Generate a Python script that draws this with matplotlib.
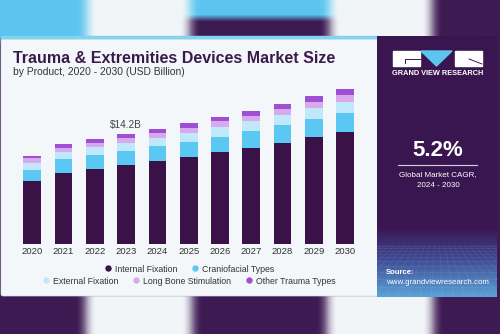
import numpy as np
import matplotlib
matplotlib.use("Agg")
import matplotlib.pyplot as plt
from matplotlib.patches import Rectangle, FancyBboxPatch, Polygon
from matplotlib.lines import Line2D

# ---- data (USD Billion) ----
years = ["2020", "2021", "2022", "2023", "2024", "2025", "2026", "2027", "2028", "2029", "2030"]
internal_fixation = [8.15, 9.23, 9.74, 10.18, 10.70, 11.30, 11.90, 12.42, 13.11, 13.81, 14.53]
craniofacial_types = [1.46, 1.77, 1.72, 1.85, 1.94, 1.90, 1.98, 2.16, 2.29, 2.37, 2.46]
external_fixation = [0.87, 0.91, 1.07, 1.04, 1.07, 1.16, 1.26, 1.29, 1.33, 1.38, 1.42]
long_bone_stimulation = [0.61, 0.56, 0.56, 0.65, 0.65, 0.69, 0.74, 0.69, 0.78, 0.87, 0.91]
other_trauma_types = [0.30, 0.43, 0.52, 0.48, 0.56, 0.61, 0.56, 0.61, 0.61, 0.69, 0.78]
series_names = ["Internal Fixation", "Craniofacial Types", "External Fixation",
                "Long Bone Stimulation", "Other Trauma Types"]
highlight_year = "2023"
cagr_text = "5.2%"

PURPLE = "#3b1850"
SKY = "#5cc6f0"
colors = ["#3a1248", "#5ac8f2", "#bfe9fb", "#d8a9ec", "#9f4fd4"]

W, H = 500, 334
fig = plt.figure(figsize=(5, 3.34), dpi=100)

# ---- background canvas in pixel coordinates ----
bg = fig.add_axes([0, 0, 1, 1])
bg.set_xlim(0, W)
bg.set_ylim(H, 0)
bg.axis("off")


def rgb(h):
    return np.array(matplotlib.colors.to_rgb(h))


def box_blur(a, r, axis):
    k = np.ones(2 * r + 1) / (2 * r + 1)
    pad = [(0, 0)] * a.ndim
    pad[axis] = (r, r)
    ap = np.pad(a, pad, mode="edge")
    return np.apply_along_axis(lambda v: np.convolve(v, k, mode="valid"), axis, ap)


img = np.zeros((H, W, 3))
img[:] = rgb("#3e1a52")
white = rgb("#f2f6f9")
for x in range(W):
    if x < 87:
        img[:40, x] = rgb(SKY)
    elif x < 190:
        img[:40, x] = white
    elif x < 330:
        img[:18, x] = rgb(SKY)
    elif x < 432:
        img[:40, x] = white
    if 86 <= x < 192 or 327 <= x < 433:
        img[294:, x] = white
img = box_blur(img, 5, 1)
img = box_blur(img, 5, 1)
img = box_blur(img, 3, 0)
bg.imshow(img, extent=(0, W, H, 0), aspect="auto", zorder=0)

# card
bg.add_patch(Rectangle((1, 36), 377, 4, color="#7fd3f3", zorder=1))
bg.add_patch(FancyBboxPatch((1, 39.5), 377, 256.5, boxstyle="round,pad=0,rounding_size=2",
                            facecolor="#f3f7fa", edgecolor="#d8dde2", lw=0.5, zorder=1))

# right panel with gradient foot
ph = np.linspace(36, 297, 262)
pan = np.zeros((len(ph), 1, 3))
top_c, mid_c, bot_c = rgb("#3a1650"), rgb("#3e4790"), rgb("#5aa2d8")
for i, y in enumerate(ph):
    if y < 228:
        c = top_c
    elif y < 258:
        t = (y - 228) / 30
        c = top_c * (1 - t) + mid_c * t
    else:
        t = (y - 258) / 39
        c = mid_c * (1 - t) + bot_c * t
    pan[i, 0] = c
bg.imshow(pan, extent=(377, 497, 297, 36), aspect="auto", zorder=2)

# perspective grid in the panel foot
panel_clip = Rectangle((377, 36), 120, 261, transform=bg.transData)
for yy in [246, 248, 250.5, 253.5, 257, 261, 266, 272, 279, 287]:
    bg.plot([377, 497], [yy, yy], color="white", alpha=0.12, lw=0.4, zorder=3)
vx, vy = 437, 205
for bx in np.linspace(250, 624, 34):
    t0 = (245 - vy) / (297 - vy)
    x0 = vx + (bx - vx) * t0
    ln, = bg.plot([x0, bx], [245, 297], color="white", alpha=0.10, lw=0.4, zorder=3)
    ln.set_clip_path(panel_clip)

# logo
bg.add_patch(Rectangle((393, 51), 27, 15, color="white", zorder=4))
bg.add_patch(Polygon([(421, 51), (452, 51), (436.5, 66)], color=SKY, zorder=4))
bg.add_patch(Rectangle((455, 51), 27, 15, color="white", zorder=4))
bg.plot([405, 420], [59, 59], color=PURPLE, lw=0.7, zorder=5)
bg.plot([405, 405], [59, 63], color=PURPLE, lw=0.7, zorder=5)
bg.plot([469, 482], [59, 64], color=PURPLE, lw=0.7, zorder=5)
bg.text(437.5, 73.5, "GRAND VIEW RESEARCH", color="white", fontsize=5.3, fontweight="bold",
        family="Liberation Sans", ha="center", va="center", zorder=5)

bg.text(438, 151, cagr_text, color="white", fontsize=16, fontweight="bold",
        family="Liberation Sans", ha="center", va="center", zorder=5)
bg.plot([398, 477], [165, 165], color="#d9cfe3", lw=0.8, zorder=5)
bg.text(438, 174.5, "Global Market CAGR,", color="white", fontsize=5.8,
        family="Liberation Sans", ha="center", va="center", zorder=5)
bg.text(438, 185.5, "2024 - 2030", color="white", fontsize=5.8,
        family="Liberation Sans", ha="center", va="center", zorder=5)
bg.text(386, 272, "Source:", color="white", fontsize=5.6, fontweight="bold",
        family="Liberation Sans", ha="left", va="center", zorder=5)
bg.text(386, 282, "www.grandviewresearch.com", color="white", fontsize=5.7,
        family="Liberation Sans", ha="left", va="center", zorder=5)

# titles
bg.text(13, 63.3, "Trauma & Extremities Devices Market Size", color="#3a1a4a",
        fontsize=11.5, fontweight="bold", family="Liberation Sans", ha="left",
        va="baseline", zorder=5)
bg.text(13, 75, "by Product, 2020 - 2030 (USD Billion)", color="#333333",
        fontsize=7.4, family="Liberation Sans", ha="left", va="baseline", zorder=5)

# ---- bar chart ----
px_per_bn = 1 / 0.1294
left_px, right_px, base_px, top_px = 10, 368, 244, 80
ax = fig.add_axes([left_px / W, 1 - base_px / H, (right_px - left_px) / W,
                   (base_px - top_px) / H])
ax.patch.set_alpha(0)
x = np.arange(len(years))
x0c, step = 32.2, 31.3
ax.set_xlim((left_px - x0c) / step, (right_px - x0c) / step)
ax.set_ylim(0, (base_px - top_px) / px_per_bn)

stack = [internal_fixation, craniofacial_types, external_fixation,
         long_bone_stimulation, other_trauma_types]
bottom = np.zeros(len(years))
for vals, col in zip(stack, colors):
    ax.bar(x, vals, width=0.565, bottom=bottom, color=col, edgecolor="none", zorder=2)
    bottom += np.array(vals)

hi = years.index(highlight_year)
ax.text(x[hi], bottom[hi] + 0.55, f"${bottom[hi]:.1f}B", ha="center", va="bottom",
        fontsize=7.2, color="#444444", family="Liberation Sans")

ax.set_xticks(x)
ax.set_xticklabels(years, fontsize=6.8, color="#333333", family="Liberation Sans")
ax.tick_params(axis="x", length=0, pad=2.5)
ax.set_yticks([])
for s in ax.spines.values():
    s.set_visible(False)

# legend in two centred rows
handles = [Line2D([], [], marker="o", linestyle="none", markersize=4.6,
                  markerfacecolor=c, markeredgecolor="none") for c in colors]
common = dict(frameon=False, handletextpad=0.3, columnspacing=1.5, handlelength=1.0,
              borderpad=0, borderaxespad=0,
              prop={"family": "Liberation Sans", "size": 6.3})
leg1 = fig.legend(handles[:2], series_names[:2], ncol=2, loc="center",
                  bbox_to_anchor=(188.5 / W, 1 - 269 / H), **common)
leg2 = fig.legend(handles[2:], series_names[2:], ncol=3, loc="center",
                  bbox_to_anchor=(188.5 / W, 1 - 281 / H), **common)
for lg in (leg1, leg2):
    for t in lg.get_texts():
        t.set_color("#333333")

fig.savefig("out.png", dpi=100)
